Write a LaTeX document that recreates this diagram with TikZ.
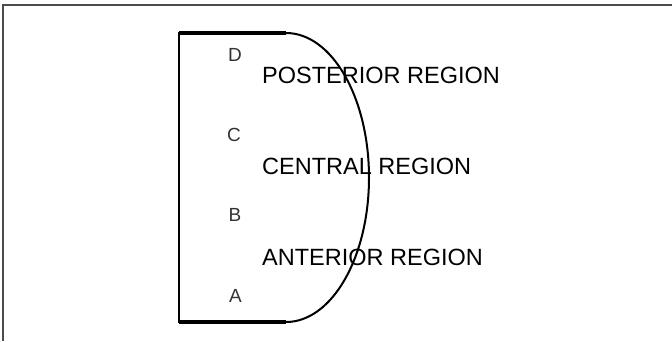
\documentclass[tikz,border=0pt]{standalone}
\usepackage{fontspec}
\setmainfont{Liberation Sans}
\begin{document}
\begin{tikzpicture}[x=1pt,y=-1pt,
  frame/.style={draw=black!70,line width=2pt},
  outline/.style={draw=black,line width=2.4pt},
  curve/.style={draw=black,line width=2pt},
  letter/.style={inner sep=0pt,text=black!80,font=\fontsize{19}{19}\selectfont},
  region/.style={inner sep=0pt,anchor=west,text=black,font=\fontsize{23.5}{23.5}\selectfont}]
\useasboundingbox (0,0) rectangle (672,341);
\coordinate (f1) at (3,341);
\coordinate (f2) at (3,5);
\coordinate (f3) at (672,5);
\draw[frame] (f1) -- (f2) -- (f3);
\coordinate (tl) at (179,33);
\coordinate (tr) at (286,33);
\coordinate (bl) at (179,322);
\coordinate (br) at (286,322);
\draw[outline] (tr) -- (tl) -- (bl) -- (br);
\draw[line width=3.2pt] (tl) -- (tr);
\draw[line width=3.2pt] (bl) -- (br);
\draw[curve] (tr) arc[start angle=-90,end angle=90,x radius=83,y radius=144.5];
\node[letter] (D) at (235,55) {D};
\node[letter] (C) at (234,135) {C};
\node[letter] (B) at (235,215) {B};
\node[letter] (A) at (235.5,296) {A};
\node[region] (post) at (262,75.5) {POSTERIOR REGION};
\node[region] (cent) at (262,166.5) {CENTRAL REGION};
\node[region] (ant) at (262,257) {ANTERIOR REGION};
\end{tikzpicture}
\end{document}
